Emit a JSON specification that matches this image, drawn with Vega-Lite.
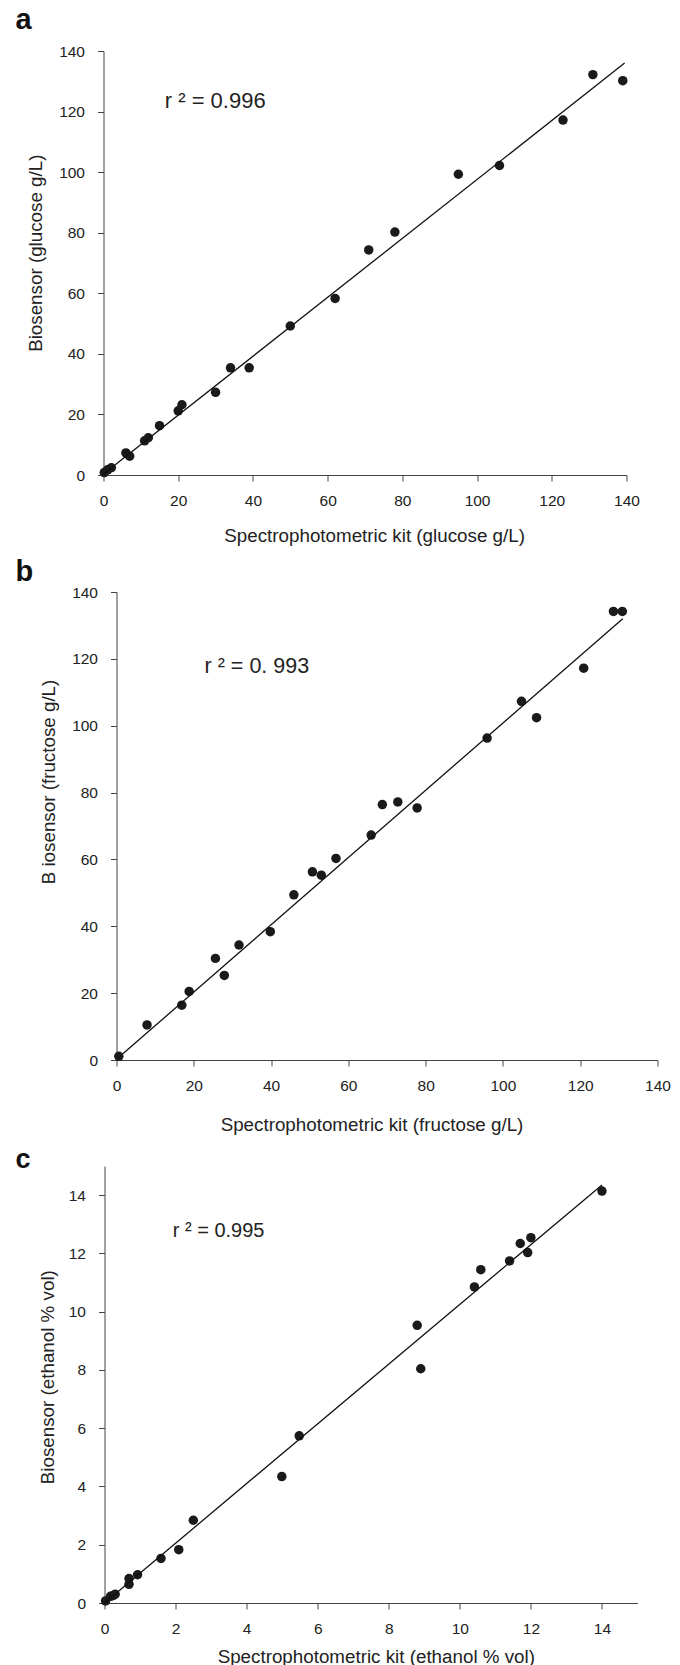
{
  "$schema": "https://vega.github.io/schema/vega-lite/v6.json",
  "background": "white",
  "padding": {"left": 15.5, "top": 6, "right": 0, "bottom": 0},
  "config": {
    "view": {"stroke": null},
    "font": "Liberation Sans",
    "axis": {
      "grid": false,
      "domainColor": "#444",
      "tickColor": "#444",
      "tickSize": 6,
      "labelFont": "Liberation Sans",
      "labelFontSize": 15.5,
      "labelColor": "#222",
      "labelFlush": false,
      "labelOverlap": false,
      "titleFont": "Liberation Sans",
      "titleFontSize": 18.8,
      "titleFontWeight": "normal",
      "titleColor": "#222"
    },
    "axisX": {"labelPadding": 12},
    "axisY": {"labelPadding": 13},
    "title": {"font": "Liberation Sans", "fontWeight": "bold", "color": "#111", "anchor": "start", "frame": "group", "baseline": "alphabetic"}
  },
  "vconcat": [
    {
      "title": {"text": "a", "fontSize": 29, "offset": 8.8},
      "bounds": "flush",
      "spacing": 0,
      "hconcat": [
        {"width": 87.3, "height": 10, "data": {"values": []}, "mark": "point", "encoding": {}},
        {
          "width": 523,
          "height": 424,
          "layer": [
            {
              "data": {"values": [
                {"kit": 0.2, "bio": 0.8}, {"kit": 1.1, "bio": 1.7}, {"kit": 2.1, "bio": 2.4},
                {"kit": 6, "bio": 7.3}, {"kit": 7, "bio": 6.2}, {"kit": 11, "bio": 11.3},
                {"kit": 12, "bio": 12.3}, {"kit": 15, "bio": 16.3}, {"kit": 20, "bio": 21.2},
                {"kit": 21, "bio": 23.2}, {"kit": 30, "bio": 27.3}, {"kit": 34, "bio": 35.4},
                {"kit": 39, "bio": 35.4}, {"kit": 50, "bio": 49.2}, {"kit": 62, "bio": 58.3},
                {"kit": 71, "bio": 74.3}, {"kit": 78, "bio": 80.2}, {"kit": 95, "bio": 99.3},
                {"kit": 106, "bio": 102.2}, {"kit": 123, "bio": 117.2}, {"kit": 131, "bio": 132.2},
                {"kit": 139, "bio": 130.2}
              ]},
              "mark": {"type": "circle", "size": 90, "color": "#1a1a1a", "opacity": 1},
              "encoding": {
                "x": {"field": "kit", "type": "quantitative", "scale": {"domain": [0, 140], "nice": false},
                      "axis": {"values": [0, 20, 40, 60, 80, 100, 120, 140], "title": "Spectrophotometric kit (glucose g/L)", "titleX": 270.6, "titlePadding": 17.5}},
                "y": {"field": "bio", "type": "quantitative", "scale": {"domain": [0, 140], "nice": false},
                      "axis": {"values": [0, 20, 40, 60, 80, 100, 120, 140], "title": "Biosensor (glucose g/L)", "titleY": 201.7, "titlePadding": 13.4}}
              }
            },
            {
              "data": {"values": [{"kit": 0, "bio": 0.3}, {"kit": 139.5, "bio": 136}]},
              "mark": {"type": "line", "color": "#111", "strokeWidth": 1.3},
              "encoding": {
                "x": {"field": "kit", "type": "quantitative"},
                "y": {"field": "bio", "type": "quantitative"}
              }
            },
            {
              "data": {"values": [{}]},
              "mark": {"type": "text", "align": "left", "baseline": "alphabetic", "fontSize": 22, "color": "#222", "font": "Liberation Sans"},
              "encoding": {
                "x": {"datum": 16.4, "type": "quantitative"},
                "y": {"datum": 121.3, "type": "quantitative"},
                "text": {"value": "r ² = 0.996"}
              }
            }
          ]
        }
      ]
    },
    {
      "title": {"text": "b", "fontSize": 29, "offset": -1.55},
      "bounds": "flush",
      "spacing": 0,
      "hconcat": [
        {"width": 100.3, "height": 10, "data": {"values": []}, "mark": "point", "encoding": {}},
        {
          "width": 541,
          "height": 468,
          "layer": [
            {
              "data": {"values": [
                {"kit": 0.6, "bio": 1.1}, {"kit": 7.9, "bio": 10.5}, {"kit": 16.9, "bio": 16.4},
                {"kit": 18.8, "bio": 20.5}, {"kit": 25.6, "bio": 30.4}, {"kit": 27.9, "bio": 25.3},
                {"kit": 31.7, "bio": 34.4}, {"kit": 39.8, "bio": 38.4}, {"kit": 45.9, "bio": 49.4},
                {"kit": 50.7, "bio": 56.3}, {"kit": 53, "bio": 55.3}, {"kit": 56.8, "bio": 60.3},
                {"kit": 65.9, "bio": 67.3}, {"kit": 68.8, "bio": 76.4}, {"kit": 72.8, "bio": 77.2},
                {"kit": 77.8, "bio": 75.4}, {"kit": 95.9, "bio": 96.3}, {"kit": 104.8, "bio": 107.3},
                {"kit": 108.7, "bio": 102.4}, {"kit": 120.9, "bio": 117.2}, {"kit": 128.6, "bio": 134.2},
                {"kit": 130.9, "bio": 134.2}
              ]},
              "mark": {"type": "circle", "size": 90, "color": "#1a1a1a", "opacity": 1},
              "encoding": {
                "x": {"field": "kit", "type": "quantitative", "scale": {"domain": [0, 140], "nice": false},
                      "axis": {"values": [0, 20, 40, 60, 80, 100, 120, 140], "title": "Spectrophotometric kit (fructose g/L)", "titleX": 255, "titlePadding": 21.5}},
                "y": {"field": "bio", "type": "quantitative", "scale": {"domain": [0, 140], "nice": false},
                      "axis": {"values": [0, 20, 40, 60, 80, 100, 120, 140], "title": "B iosensor (fructose g/L)", "titleY": 189.5, "titlePadding": 13}}
              }
            },
            {
              "data": {"values": [{"kit": 0.3, "bio": 0.5}, {"kit": 131, "bio": 132}]},
              "mark": {"type": "line", "color": "#111", "strokeWidth": 1.3},
              "encoding": {
                "x": {"field": "kit", "type": "quantitative"},
                "y": {"field": "bio", "type": "quantitative"}
              }
            },
            {
              "data": {"values": [{}]},
              "mark": {"type": "text", "align": "left", "baseline": "alphabetic", "fontSize": 21.5, "color": "#222", "font": "Liberation Sans"},
              "encoding": {
                "x": {"datum": 22.8, "type": "quantitative"},
                "y": {"datum": 115.7, "type": "quantitative"},
                "text": {"value": "r ² = 0.  993"}
              }
            }
          ]
        }
      ]
    },
    {
      "title": {"text": "c", "fontSize": 27, "offset": -8.25},
      "bounds": "flush",
      "spacing": 0,
      "hconcat": [
        {"width": 89, "height": 10, "data": {"values": []}, "mark": "point", "encoding": {}},
        {
          "width": 533,
          "height": 437,
          "layer": [
            {
              "data": {"values": [
                {"kit": 0.03, "bio": 0.07}, {"kit": 0.17, "bio": 0.23}, {"kit": 0.25, "bio": 0.26},
                {"kit": 0.3, "bio": 0.3}, {"kit": 0.69, "bio": 0.64}, {"kit": 0.69, "bio": 0.84},
                {"kit": 0.93, "bio": 0.97}, {"kit": 1.59, "bio": 1.53}, {"kit": 2.09, "bio": 1.83},
                {"kit": 2.5, "bio": 2.84}, {"kit": 4.99, "bio": 4.34}, {"kit": 5.48, "bio": 5.74},
                {"kit": 8.8, "bio": 9.53}, {"kit": 8.9, "bio": 8.04}, {"kit": 10.41, "bio": 10.85},
                {"kit": 10.59, "bio": 11.44}, {"kit": 11.4, "bio": 11.74}, {"kit": 11.7, "bio": 12.34},
                {"kit": 11.91, "bio": 12.03}, {"kit": 12.0, "bio": 12.54}, {"kit": 14.0, "bio": 14.14}
              ]},
              "mark": {"type": "circle", "size": 90, "color": "#1a1a1a", "opacity": 1},
              "encoding": {
                "x": {"field": "kit", "type": "quantitative", "scale": {"domain": [0, 15], "nice": false},
                      "axis": {"values": [0, 2, 4, 6, 8, 10, 12, 14], "title": "Spectrophotometric kit (ethanol % vol)", "titleX": 271.3, "titlePadding": 11}},
                "y": {"field": "bio", "type": "quantitative", "scale": {"domain": [0, 15], "nice": false},
                      "axis": {"values": [0, 2, 4, 6, 8, 10, 12, 14], "title": "Biosensor (ethanol % vol)", "titleY": 210.7, "titlePadding": 10.3}}
              }
            },
            {
              "data": {"values": [{"kit": 0, "bio": 0}, {"kit": 14, "bio": 14.35}]},
              "mark": {"type": "line", "color": "#111", "strokeWidth": 1.3},
              "encoding": {
                "x": {"field": "kit", "type": "quantitative"},
                "y": {"field": "bio", "type": "quantitative"}
              }
            },
            {
              "data": {"values": [{}]},
              "mark": {"type": "text", "align": "left", "baseline": "alphabetic", "fontSize": 20, "color": "#222", "font": "Liberation Sans"},
              "encoding": {
                "x": {"datum": 1.92, "type": "quantitative"},
                "y": {"datum": 12.55, "type": "quantitative"},
                "text": {"value": "r  ² = 0.995"}
              }
            }
          ]
        }
      ]
    }
  ],
  "bounds": "full",
  "spacing": 12
}
